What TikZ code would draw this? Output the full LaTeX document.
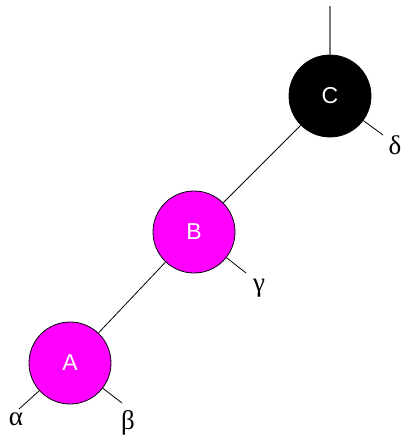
\documentclass[tikz,border=0pt]{standalone}
\usepackage{fontspec}
\setmainfont{Liberation Serif}
\setsansfont{Liberation Sans}
\definecolor{nodemag}{RGB}{255,0,255}
\definecolor{topgray}{RGB}{120,120,120}
\begin{document}
\begin{tikzpicture}[x=1pt,y=-1pt,
  rbnode/.style={circle, draw=black, line width=0.8pt, minimum size=82pt, inner sep=0pt, text=white, font=\sffamily\fontsize{23}{27}\selectfont},
  edgeline/.style={line width=0.8pt, black},
  greek/.style={font=\fontsize{27}{31}\selectfont, inner sep=0pt}]
\useasboundingbox (0,0) rectangle (403,436);
\coordinate (top) at (330,6);
\coordinate (dC) at (383,135);
\coordinate (gB) at (246,273);
\coordinate (aA) at (19,409);
\coordinate (bA) at (122,403);
\node[rbnode, fill=black] (C) at (330,96) {C};
\node[rbnode, fill=nodemag] (B) at (194,232) {B};
\node[rbnode, fill=nodemag] (A) at (70,363) {A};
\draw[topgray, line width=1.6pt] (top) -- (C);
\draw[edgeline] (C) -- (B);
\draw[edgeline] (B) -- (A);
\draw[edgeline] (C) -- (dC);
\draw[edgeline] (B) -- (gB);
\draw[edgeline] (A) -- (aA);
\draw[edgeline] (A) -- (bA);
\node[greek] (delta) at (395,145) {δ};
\node[greek] (gamma) at (259,288) {γ};
\node[greek] (alpha) at (16,419) {α};
\node[greek] (beta) at (128,423) {β};
\end{tikzpicture}
\end{document}
